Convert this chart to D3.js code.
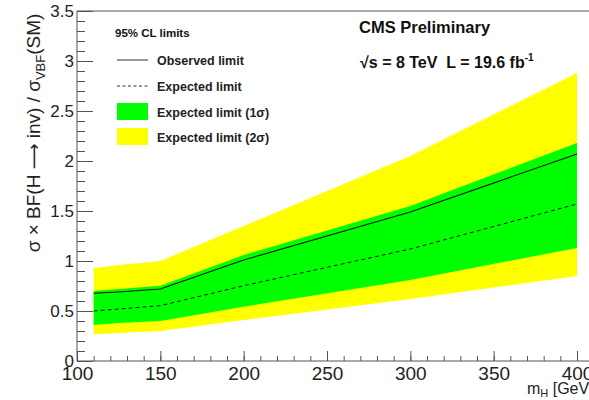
<!DOCTYPE html>
<html>
<head>
<meta charset="utf-8">
<script src="https://cdn.jsdelivr.net/npm/d3@7"></script>
<style>
  body { margin: 0; background: #fff; }
  svg { display: block; font-family: "Liberation Sans", Arial, sans-serif; }
</style>
</head>
<body>
<div class="chart"></div>
<script>
// limit values
var masses = [110, 125, 150, 200, 300, 400];
var observed = [0.677, 0.69, 0.72, 1.01, 1.49, 2.07];
var expected = [0.50, 0.52, 0.553, 0.753, 1.12, 1.57];
var sigma1Up = [0.70, 0.72, 0.753, 1.06, 1.55, 2.18];
var sigma1Down = [0.36, 0.38, 0.40, 0.543, 0.81, 1.13];
var sigma2Up = [0.927, 0.96, 1.00, 1.35, 2.05, 2.88];
var sigma2Down = [0.267, 0.28, 0.30, 0.41, 0.62, 0.85];

var xTicks = [100, 150, 200, 250, 300, 350, 400];
var yTicks = [0, 0.5, 1, 1.5, 2, 2.5, 3, 3.5];

var legendItems = [
    { label: "Observed limit", kind: "solid" },
    { label: "Expected limit", kind: "dashed" },
    { label: "Expected limit (1\u03c3)", kind: "green" },
    { label: "Expected limit (2\u03c3)", kind: "yellow" }
];

var W = 589, H = 400;
var margin = { top: 11, left: 77 };
var plotW = 500, plotH = 350;

var svg = d3.select(".chart").append("svg")
    .attr("width", W)
    .attr("height", H);

var x = d3.scaleLinear().domain([100, 400]).range([margin.left, margin.left + plotW]);
var y = d3.scaleLinear().domain([0, 3.5]).range([margin.top + plotH, margin.top]);

var rows = masses.map(function(m, i) {
    return { m: m, obs: observed[i], exp: expected[i],
             u1: sigma1Up[i], d1: sigma1Down[i], u2: sigma2Up[i], d2: sigma2Down[i] };
});

// bands
var band = function(lo, hi) {
    return d3.area()
        .x(function(d) { return x(d.m); })
        .y0(function(d) { return y(d[lo]); })
        .y1(function(d) { return y(d[hi]); });
};

svg.append("path").datum(rows).attr("d", band("d2", "u2")).attr("fill", "#ffff00");
svg.append("path").datum(rows).attr("d", band("d1", "u1")).attr("fill", "#00ff00");

var line = function(key) {
    return d3.line().x(function(d) { return x(d.m); }).y(function(d) { return y(d[key]); });
};

svg.append("path").datum(rows).attr("d", line("exp"))
    .attr("fill", "none").attr("stroke", "#111").attr("stroke-width", 1)
    .attr("stroke-dasharray", "4,3");
svg.append("path").datum(rows).attr("d", line("obs"))
    .attr("fill", "none").attr("stroke", "#111").attr("stroke-width", 1.1);

// axes
var axisColor = "#555";

var yMinor = d3.range(0, 3.5001, 0.1);
svg.append("g").attr("class", "y-minor")
    .attr("transform", "translate(" + margin.left + ",0)")
    .call(d3.axisLeft(y).tickValues(yMinor).tickSizeInner(-8).tickSizeOuter(0).tickFormat(""));

svg.append("g").attr("class", "y-axis")
    .attr("transform", "translate(" + margin.left + ",0)")
    .call(d3.axisLeft(y).tickValues(yTicks).tickSizeInner(-16).tickSizeOuter(0).tickPadding(3)
        .tickFormat(function(d) { return d3.format("")(d); }));

var xMinor = d3.range(100, 401, 10);
svg.append("g").attr("class", "x-minor")
    .attr("transform", "translate(0," + (margin.top + plotH) + ")")
    .call(d3.axisBottom(x).tickValues(xMinor).tickSizeInner(-5).tickSizeOuter(0).tickFormat(""));

svg.append("g").attr("class", "x-axis")
    .attr("transform", "translate(0," + (margin.top + plotH) + ")")
    .call(d3.axisBottom(x).tickValues(xTicks).tickSizeInner(-10).tickSizeOuter(0).tickPadding(6));

svg.selectAll(".domain").remove();
svg.selectAll(".tick line").attr("stroke", axisColor);
svg.selectAll(".y-axis text").attr("font-size", 17).attr("fill", "#222")
    .attr("font-family", "Liberation Sans, Arial, sans-serif");
svg.selectAll(".x-axis text").attr("font-size", 19).attr("fill", "#222")
    .attr("font-family", "Liberation Sans, Arial, sans-serif");

// frame lines
svg.append("line").attr("x1", margin.left).attr("x2", W)
    .attr("y1", margin.top).attr("y2", margin.top).attr("stroke", axisColor);
svg.append("line").attr("x1", margin.left).attr("x2", W)
    .attr("y1", margin.top + plotH).attr("y2", margin.top + plotH).attr("stroke", axisColor);
svg.append("line").attr("x1", margin.left).attr("x2", margin.left)
    .attr("y1", margin.top).attr("y2", margin.top + plotH).attr("stroke", axisColor);

// axis titles
var yTitle = svg.append("text")
    .attr("transform", "translate(40,133) rotate(-90)")
    .attr("text-anchor", "middle")
    .attr("font-size", 19).attr("fill", "#222");
yTitle.append("tspan").text("\u03c3 \u00d7 BF(H ");
yTitle.append("tspan").attr("font-family", "DejaVu Sans").attr("font-size", 18).text("\u27f6");
yTitle.append("tspan").text(" inv) / \u03c3");
yTitle.append("tspan").attr("font-size", 13).attr("dy", 5).text("VBF");
yTitle.append("tspan").attr("dy", -5).text("(SM)");

var xTitle = svg.append("text")
    .attr("x", 527).attr("y", 394)
    .attr("font-size", 16).attr("fill", "#222");
xTitle.append("tspan").text("m");
xTitle.append("tspan").attr("font-size", 11).attr("dy", 3).text("H");
xTitle.append("tspan").attr("dy", -3).text(" [GeV]");

// labels
svg.append("text").attr("x", 359).attr("y", 33)
    .attr("font-size", 16.5).attr("font-weight", "bold").attr("fill", "#111")
    .text("CMS Preliminary");

var lumi = svg.append("text").attr("x", 360).attr("y", 68)
    .attr("font-size", 16).attr("font-weight", "bold").attr("fill", "#111");
lumi.append("tspan").text("\u221as = 8 TeV\u00a0\u00a0L = 19.6 fb");
lumi.append("tspan").attr("font-size", 10).attr("dy", -7).text("-1");

// legend
svg.append("text").attr("x", 115).attr("y", 37)
    .attr("font-size", 11.5).attr("font-weight", "bold").attr("fill", "#111")
    .text("95% CL limits");

var legend = svg.append("g").attr("transform", "translate(117,0)");
var rowY = [60, 86, 112, 137];

legendItems.forEach(function(item, i) {
    var cy = rowY[i];
    if (item.kind === "solid" || item.kind === "dashed") {
        legend.append("line").attr("x1", 0).attr("x2", 31).attr("y1", cy).attr("y2", cy)
            .attr("stroke", "#333").attr("stroke-width", 1)
            .attr("stroke-dasharray", item.kind === "dashed" ? "3,2.5" : null);
    } else {
        legend.append("rect").attr("x", 0).attr("y", cy - 9).attr("width", 31).attr("height", 17)
            .attr("fill", item.kind === "green" ? "#00ff00" : "#ffff00");
    }
    legend.append("text").attr("x", 40).attr("y", cy + 5)
        .attr("font-size", 12.5).attr("font-weight", "bold").attr("fill", "#222")
        .text(item.label);
});
</script>
</body>
</html>
